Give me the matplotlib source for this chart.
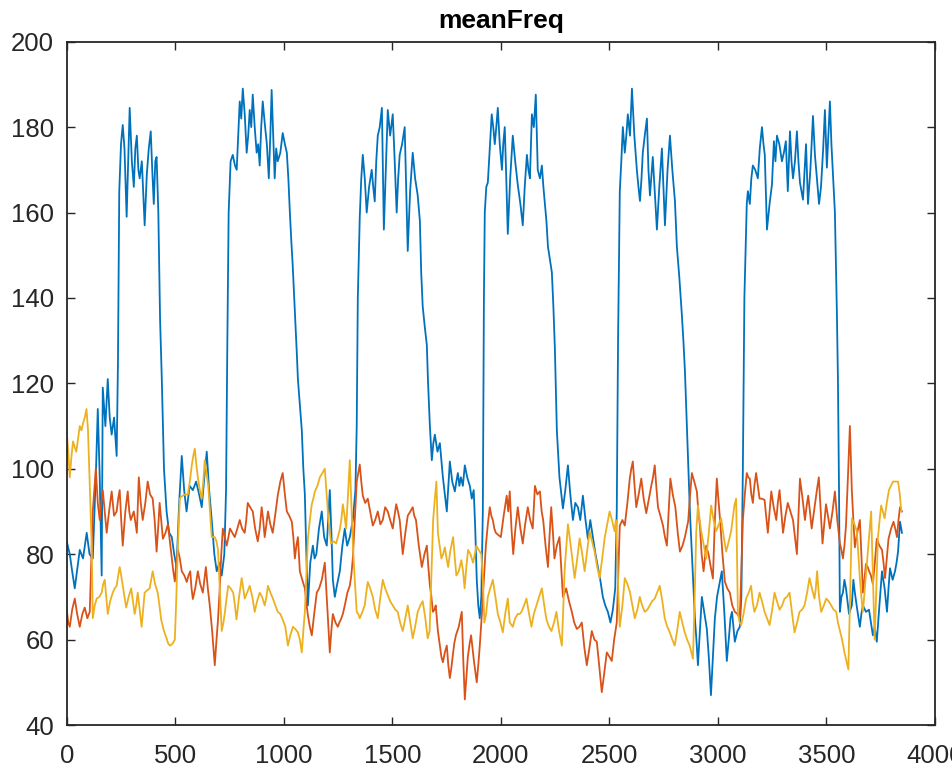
import numpy as np
import matplotlib
matplotlib.use('Agg')
import matplotlib.pyplot as plt

plt.rcParams['font.family'] = ['Liberation Sans', 'DejaVu Sans']

#####data (x, value)#####
blue_pts = [(0,83),(14,80),(25,76),(37,72),(50,77),(60,81),(75,79),(92,85),(105,80),(120,79),(135,100),(143,114),
    (152,98),(161,75),(166,119),(178,110),(189,121),(198,112),(207,108),(218,112),(230,103),(236,125),(242,165),
    (250,176),(258,180.5),(266,175),(276,159),(290,184.5),(300,172),(309,166),(316,175),(323,178),(330,170),
    (336,168),(346,172),(359,157),(369,169),(378,175),(387,179),(394,170),(401,162),(408,172),(414,173),(422,160),
    (430,135),(438,121),(448,100),(460,90),(472,85),(484,84),(495,80),(506,77),(518,92),(530,103),(541,95),
    (552,90),(566,96),(581,95),(596,97),(610,94),(622,91),(634,98),(645,104),(656,95),(668,88),(680,80),(691,76),
    (703,78),(714,75),(726,80),(734,95),(740,130),(746,160),(755,172),(765,173.5),(775,171),(783,170),(790,178),
    (797,186),(804,182),(811,189),(820,183),(829,174),(836,178),(843,184),(850,180),(857,187.6),(866,180),
    (875,174),(882,176),(889,171),(896,180),(903,186),(912,181),(922,176),(931,168),(938,178),(944,188.7),
    (951,178),(958,168),(965,175),(972,172),(984,174),(995,178.6),(1005,176),(1014,174),(1021,168),(1028,160),
    (1035,153),(1041,147.7),(1050,138),(1060,127),(1065,121),(1074,115),(1083,109),(1090,100),(1097,94),
    (1104,80),(1111,68),(1122,78),(1134,82),(1142,79),(1150,80),(1162,86),(1175,90),(1186,84),(1198,82),
    (1212,95),(1220,84),(1226,74),(1235,70),(1246,73),(1258,76),(1270,82),(1281,86),(1292,82),(1304,84),
    (1318,88),(1330,95),(1336,110),(1341,140),(1350,159),(1357,168),(1364,173.5),(1373,168),(1382,160),
    (1393,166),(1405,170),(1412,166),(1419,162.6),(1426,172),(1433,178),(1442,180),(1452,184.5),(1461,156),
    (1470,170),(1479,184),(1490,178),(1502,183),(1511,172),(1520,160),(1527,168),(1534,173.5),(1545,176),
    (1557,180),(1564,165),(1571,151),(1582,165),(1594,174),(1605,168),(1617,164),(1627,158),(1633,146),
    (1640,138),(1650,133),(1659,129),(1664,121),(1673,110),(1682,102),(1689,106),(1696,108),(1708,104),
    (1719,106),(1726,102),(1733,98),(1742,94),(1751,90),(1758,96),(1765,101.7),(1776,97),(1788,94.7),(1795,97),
    (1802,99),(1809,96),(1816,98),(1825,96),(1834,100.8),(1845,98),(1857,96),(1866,93),(1875,95),(1882,86),
    (1889,74),(1896,68),(1903,65),(1910,70),(1917,90),(1922,140),(1926,160),(1933,166),(1940,167),(1949,175),
    (1958,183),(1965,180),(1972,176),(1979,180),(1986,184.5),(1995,176),(2005,170),(2011,176),(2018,180),
    (2025,168),(2032,155),(2043,168),(2055,178),(2066,172),(2078,166.5),(2090,162),(2101,157),(2110,166),
    (2120,173.5),(2127,170),(2134,168),(2143,183),(2152,180),(2161,187.6),(2170,170),(2180,168),(2189,171),
    (2196,166),(2203,162),(2210,158),(2217,152),(2226,149),(2235,146),(2242,138),(2249,128),(2258,109),
    (2270,98),(2286,90.7),(2297,95),(2309,100.8),(2320,94),(2332,88),(2343,92),(2355,91),(2366,88),(2378,93.7),
    (2390,88),(2401,83.6),(2412,88),(2424,84),(2436,80),(2447,77),(2458,74),(2470,70),(2481,68),(2493,66.5),
    (2505,64),(2516,67),(2527,72),(2534,90),(2540,130),(2548,165),(2555,172),(2562,180),(2571,174),(2578,178),
    (2585,183),(2595,178),(2604,189),(2615,178),(2627,169.7),(2634,166),(2641,162.7),(2648,168),(2654,174),
    (2663,178),(2673,182),(2680,170),(2687,164),(2693,168),(2700,173),(2710,164),(2719,156),(2730,166),
    (2742,175),(2749,166),(2756,157),(2768,170),(2779,178),(2790,170),(2802,162.7),(2811,152),(2822,145),
    (2834,136),(2841,130),(2848,123),(2857,110),(2864,100),(2871,90),(2882,78),(2894,65),(2901,60),(2908,54),
    (2917,62),(2926,70),(2938,66),(2949,62.5),(2958,56),(2968,47),(2977,56),(2986,65),(2996,70),(3007,73),
    (3018,76),(3030,66),(3041,55),(3050,60),(3058,65),(3065,66.5),(3078,59.5),(3090,62),(3101,63),(3108,70),
    (3115,100),(3122,140),(3133,162),(3138,165),(3147,162),(3154,168),(3161,171),(3172,170),(3184,168),
    (3193,175),(3203,180),(3210,176),(3216,173.5),(3226,156),(3238,162),(3249,166.5),(3258,176.7),(3265,172),
    (3272,178),(3283,176),(3295,172),(3304,174),(3313,176.7),(3322,165),(3332,179),(3339,172),(3346,168),
    (3355,172),(3364,179),(3371,172),(3378,167),(3385,165),(3392,163),(3406,176),(3415,162),(3426,170),
    (3438,182.6),(3447,173.5),(3456,168),(3466,162),(3475,166),(3485,175),(3493,184),(3502,170.5),(3509,178),
    (3516,186),(3523,176),(3530,169),(3539,160),(3548,137),(3553,121),(3558,95),(3562,66.5),(3569,70),
    (3576,71),(3583,74),(3590,72),(3604,66),(3617,68),(3624,74),(3631,71),(3642,67),(3654,63),(3661,66),
    (3668,68),(3682,66.5),(3696,67),(3705,64),(3714,61),(3722,63),(3732,59.5),(3744,68),(3756,76),(3768,72),
    (3779,66.5),(3786,72),(3793,76.7),(3805,74),(3816,76),(3823,78),(3830,80.6),(3839,87.6),(3848,85)]

orange_pts = [(0,67),(7,64),(14,63),(25,67),(37,69.6),(48,66),(60,63),(72,66),(83,67.5),(95,65),(106,66.5),
    (113,78),(120,90),(127,95),(134,100),(143,92),(152,88),(159,92),(166,95),(175,90),(184,85),(195,90),
    (207,94.7),(218,89),(230,90),(237,93),(244,95),(251,88),(258,82),(270,90),(281,94.7),(288,90),(295,88),
    (309,90),(323,85),(332,98),(341,92),(350,88),(362,92),(373,97),(384,94),(396,93),(405,88),(414,80.6),
    (421,86),(428,92),(435,88),(443,83.6),(455,85),(466,87),(475,83),(484,79),(491,76),(498,73.6),(505,78),
    (512,81),(521,79),(530,76),(542,75),(553,73.5),(561,75),(569,76),(575,72),(581,69.5),(592,72),(604,76),
    (615,73),(627,71),(634,74),(641,77),(650,72),(659,68),(670,62),(682,54),(690,60),(697,64.7),(705,72),
    (712,80),(719,86),(728,84),(737,82),(745,84),(752,86),(763,85),(774,84),(786,86),(797,88),(808,86),
    (820,85),(827,88),(834,92),(845,91),(857,90),(868,86),(880,83),(889,86),(898,91),(905,88),(912,84),
    (920,87),(927,90),(938,87),(949,85),(960,89),(972,93.7),(984,97),(995,99),(1005,94),(1014,90),(1025,89),
    (1037,87.6),(1044,84),(1051,79),(1058,82),(1065,84),(1074,76),(1085,74),(1097,72),(1110,66),(1120,63),
    (1129,61),(1140,66),(1152,71),(1163,72),(1175,74),(1182,76),(1189,78),(1200,68),(1212,57),(1219,62),
    (1226,66),(1238,64),(1249,63),(1256,64),(1263,64.7),(1272,66),(1281,68),(1293,71),(1304,72.6),(1311,75),
    (1318,79),(1327,88),(1336,97),(1343,99),(1350,101),(1357,97),(1364,93.7),(1375,92),(1387,93),(1398,90),
    (1410,86.7),(1421,88),(1433,90),(1445,87),(1456,88),(1467,91),(1479,90),(1490,88),(1502,86),(1510,89),
    (1518,91.7),(1526,90),(1534,88),(1541,84),(1548,80),(1560,85),(1571,89),(1583,90),(1594,91),(1601,89),
    (1609,88),(1622,82),(1636,77),(1648,80),(1659,82),(1666,77),(1673,72.7),(1680,70),(1687,66.5),(1694,67),
    (1700,68),(1710,62),(1719,58.6),(1726,56),(1733,54.7),(1742,57),(1751,58.6),(1758,54),(1765,51),(1771,53),
    (1778,56),(1785,59),(1793,61),(1806,63),(1820,66.5),(1827,55),(1834,46),(1841,51),(1848,56),(1856,59),
    (1863,61),(1876,55),(1889,50),(1896,54),(1903,58.6),(1910,64),(1917,70),(1924,76),(1931,82),(1940,87),
    (1949,91),(1956,89),(1963,88),(1970,86),(1977,85),(1988,84.5),(2000,84),(2013,89),(2027,93.7),(2034,90),
    (2041,94.7),(2049,86),(2057,80),(2067,86),(2078,91),(2090,86),(2101,82.5),(2112,87),(2124,91),(2135,88),
    (2147,86),(2157,96),(2168,94),(2180,94.7),(2188,90),(2195,88),(2206,82),(2217,77),(2224,84),(2232,91),
    (2240,85),(2247,79),(2258,82),(2270,84),(2278,77),(2286,70),(2294,71),(2301,72),(2314,69),(2327,66.5),
    (2338,64),(2350,62.5),(2362,63),(2373,64),(2385,58),(2396,54),(2408,58),(2419,62),(2431,60),(2442,59.5),
    (2453,54),(2465,47.7),(2476,52),(2488,57),(2500,56),(2511,55),(2522,60),(2534,64),(2541,75),(2548,86.7),
    (2560,88),(2571,86.7),(2583,92),(2594,97.7),(2601,100),(2608,101.7),(2616,96),(2624,91),(2635,94),
    (2647,97.7),(2658,93),(2670,89.6),(2682,93),(2693,96),(2701,98),(2709,100.8),(2716,96),(2724,91),
    (2735,89),(2747,86.7),(2756,84),(2765,82),(2773,90),(2781,97.7),(2792,94),(2804,91),(2815,85),(2825,80.6),
    (2837,82),(2848,84),(2856,86),(2863,87.7),(2872,94),(2880,99),(2891,97),(2903,94.7),(2910,90),(2917,86.7),
    (2925,80),(2934,76),(2946,82),(2957,80),(2967,77),(2977,74.3),(2986,88),(2995,97.7),(3002,93),(3010,88),
    (3021,80),(3032,73.6),(3043,72),(3055,71),(3066,68),(3078,66.5),(3090,66),(3101,65),(3108,76),(3115,88),
    (3124,94),(3133,99),(3140,98),(3147,97.7),(3154,94),(3161,92),(3168,96),(3176,99),(3184,96),(3192,93),
    (3203,93),(3215,92.7),(3222,89),(3230,85),(3238,90),(3246,94.7),(3257,91),(3269,88),(3276,92),(3284,95),
    (3292,90),(3300,85),(3311,89),(3322,92),(3334,90),(3346,88),(3355,84),(3364,80),(3371,89),(3378,97.7),
    (3390,93),(3401,88),(3408,91),(3416,93.7),(3424,90),(3432,86),(3440,89),(3447,91.7),(3456,95),(3465,98),
    (3474,90),(3482,82.5),(3490,87),(3498,91.7),(3507,89),(3516,86),(3528,90),(3539,94.7),(3550,88),
    (3562,82.5),(3569,81),(3576,79),(3583,82),(3590,86.7),(3599,98),(3608,110),(3613,102),(3617,95),(3624,88),
    (3631,81.6),(3642,85),(3654,88),(3661,80),(3668,71),(3675,74),(3682,77.7),(3690,77),(3697,76),(3705,75),
    (3714,73),(3723,78),(3732,83.6),(3744,82),(3756,81),(3763,78),(3770,74.4),(3778,79),(3786,83.6),(3798,86),
    (3809,87.6),(3817,86),(3825,84),(3832,88),(3839,91),(3848,90)]

yellow_pts = [(0,108.7),(7,104),(14,98),(22,103),(29,106.4),(37,105),(44,104),(52,107),(60,110),(68,109),
    (75,110.6),(83,112),(91,114),(98,109),(106,96),(115,82),(120,65),(129,68),(138,69.6),(150,70),(161,71),
    (168,73),(175,74),(182,70),(189,66),(200,69),(212,71),(221,72),(230,72.6),(237,75),(244,77),(251,75),
    (258,72.6),(266,70),(274,67.5),(285,70),(297,72),(305,69),(313,66),(320,68),(327,71),(336,67),(345,63),
    (352,67),(359,71),(370,71.5),(382,72),(389,74),(396,76),(407,73),(419,71),(427,68),(435,64.7),(448,62),
    (460,60.3),(468,59),(476,58.6),(487,59),(498,60),(505,70),(512,82),(517,88),(521,93),(528,93.5),(535,93.7),
    (546,94),(558,94),(567,97),(576,100.8),(583,103),(590,104.7),(597,101),(604,98),(613,95),(622,93),(629,97),
    (636,102),(644,99),(652,96),(660,90),(668,84),(675,84),(682,84),(690,83),(697,81),(705,72),(714,62),
    (722,64),(729,66.5),(737,70),(744,72.6),(755,72),(767,71),(775,68),(782,64.7),(794,70),(806,74.4),(813,72),
    (820,69.6),(831,71),(843,72.6),(855,70),(866,66.5),(877,69),(889,71),(900,70),(912,68),(920,70),
    (927,72.6),(938,71),(950,69.6),(961,68),(972,66.5),(984,66),(995,64.7),(1007,63),(1019,58.6),(1030,61),
    (1042,63),(1053,62.5),(1065,61.7),(1074,60),(1083,57),(1090,62),(1097,66.5),(1104,75),(1111,83.6),
    (1120,88),(1129,91.7),(1136,93),(1143,94.7),(1155,96),(1166,98),(1178,99),(1189,100),(1196,95),(1203,90),
    (1210,86),(1218,82.5),(1230,83),(1241,82.5),(1249,84),(1258,85.7),(1265,88),(1272,91.7),(1280,89),
    (1287,86),(1296,94),(1304,102),(1311,92),(1318,82.5),(1327,74),(1336,66.5),(1343,66),(1350,65),
    (1362,66.5),(1373,68),(1380,71),(1387,73.5),(1398,72),(1410,70),(1421,67),(1433,65),(1445,70),(1456,74),
    (1467,72),(1479,70.4),(1490,69),(1502,68),(1514,67),(1525,66.5),(1536,64),(1548,62),(1560,65),(1571,68),
    (1583,64),(1594,60.3),(1605,63),(1617,66.5),(1629,68),(1640,69),(1652,65),(1663,60.3),(1672,62),(1680,75),
    (1688,88),(1696,93),(1703,97),(1710,85),(1718,82),(1726,79),(1734,80),(1742,81.6),(1750,79),(1757,77),
    (1768,81),(1780,84),(1788,79),(1795,75),(1806,76),(1818,78.6),(1826,76),(1833,72),(1841,77),(1849,81),
    (1860,80),(1872,78),(1880,80),(1887,82),(1898,81),(1910,80),(1917,74),(1924,64),(1932,66),(1940,70),
    (1951,72),(1963,74),(1975,70),(1986,66),(1998,64),(2009,61.7),(2020,66),(2032,69.6),(2041,64),(2055,63),
    (2066,65),(2078,66),(2087,66),(2095,66.5),(2107,68),(2118,69.6),(2130,66),(2141,63),(2152,66),(2164,68),
    (2176,70),(2189,72),(2200,68),(2210,64.7),(2222,63),(2233,62),(2245,64),(2256,66.5),(2268,62),(2281,58.6),
    (2288,68),(2295,77.4),(2302,82),(2309,87),(2317,84),(2325,80.6),(2333,77),(2340,74.4),(2352,79),
    (2363,83.7),(2375,80),(2386,76),(2398,81),(2409,85.4),(2420,83),(2432,80.6),(2444,77),(2455,74.4),
    (2467,79),(2478,83.7),(2490,87),(2501,90),(2512,88),(2524,85.4),(2530,88),(2536,80),(2542,70),(2548,63),
    (2560,68),(2571,74.4),(2583,73),(2594,71.3),(2606,68),(2617,65),(2629,67),(2640,70),(2651,68),(2663,66.5),
    (2675,67),(2686,68),(2697,69),(2709,69.6),(2720,71),(2732,72.6),(2744,69),(2755,65),(2767,63),
    (2778,61.7),(2790,60),(2801,58.6),(2812,62),(2824,66.5),(2836,64),(2847,61.7),(2858,60),(2870,58.6),
    (2878,57),(2885,55.5),(2893,70),(2900,85),(2908,91.4),(2916,88),(2923,85.4),(2935,82),(2946,79),(2958,85),
    (2969,91.4),(2980,88),(2992,85.4),(3004,87),(3015,88.4),(3027,84),(3038,80.6),(3050,83),(3061,85.4),
    (3070,89),(3076,91.4),(3084,93),(3092,66.5),(3100,64),(3107,63.4),(3118,66),(3130,69.6),(3142,71),
    (3153,72.6),(3160,69),(3168,66.5),(3180,68),(3192,71),(3203,69),(3215,66.5),(3226,65),(3238,63.4),
    (3250,67),(3261,71),(3272,69),(3284,67),(3296,68),(3307,69.6),(3318,70),(3330,71),(3342,66),(3353,61.7),
    (3365,64),(3376,66.5),(3388,67),(3399,68),(3411,71),(3422,74.4),(3433,72),(3445,69.6),(3451,72),(3457,76),
    (3466,70),(3476,66.5),(3488,68),(3499,69.6),(3510,69),(3522,68),(3533,67),(3545,66.5),(3553,64),
    (3560,62.5),(3572,60),(3583,57),(3592,55),(3601,53),(3609,70),(3617,88.4),(3629,87),(3640,85.4),(3647,80),
    (3654,74.4),(3661,70),(3668,66.5),(3680,74),(3691,80.6),(3698,85),(3706,90),(3714,75),(3722,60),(3730,72),
    (3737,83.7),(3745,88),(3752,91.4),(3760,90),(3768,88.4),(3778,92),(3788,95),(3797,96),(3807,97),(3818,97),
    (3830,97),(3838,94),(3845,90)]

x_ticks = [0, 500, 1000, 1500, 2000, 2500, 3000, 3500, 4000]
y_ticks = [40, 60, 80, 100, 120, 140, 160, 180, 200]
title_txt = 'meanFreq'

#####figure#####
fig = plt.figure(figsize=(9.52, 7.76), dpi=100)
ax = fig.add_axes([0.0701, 0.0657, 0.9120, 0.8806])

series = [(blue_pts, '#0072BD'), (orange_pts, '#D95319'), (yellow_pts, '#EDB120')]
for pts, col in series:
    xs, ys = np.array(pts).T
    ax.plot(xs, ys, color=col, lw=1.3)

ax.set_xlim(0, 4000)
ax.set_ylim(40, 200)
ax.set_xticks(x_ticks)
ax.set_yticks(y_ticks)
ax.tick_params(direction='in', length=6, width=1.0, colors='#262626', labelsize=18.5,
               top=True, right=True)
ax.tick_params(axis='x', pad=14)
ax.tick_params(axis='y', pad=9)
for sp in ax.spines.values():
    sp.set_color('#262626')
    sp.set_linewidth(1.3)
ax.set_title(title_txt, fontsize=19, fontweight='bold', color='black', pad=10)

fig.savefig('out.png', dpi=100)
